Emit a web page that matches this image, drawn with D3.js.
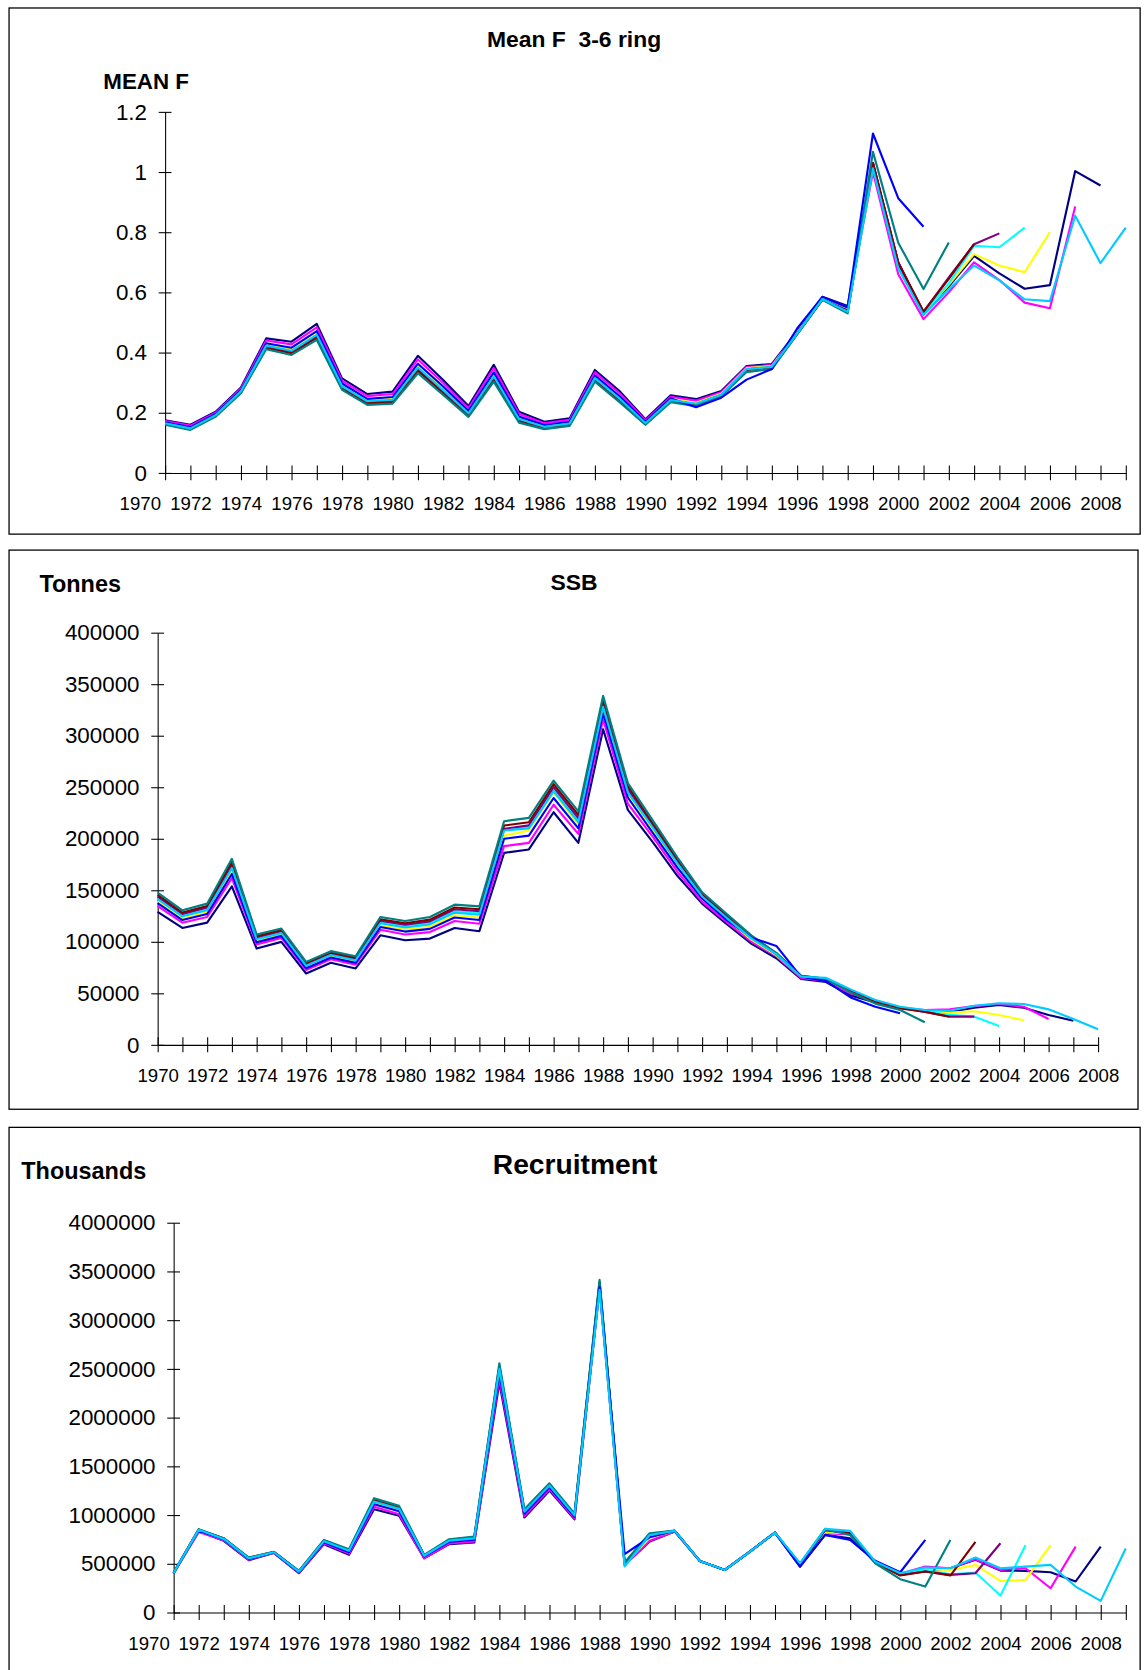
<!DOCTYPE html>
<html><head><meta charset="utf-8">
<script src="https://cdn.jsdelivr.net/npm/d3@7"></script>
<style>
html,body{margin:0;padding:0;background:#fff;}
svg{display:block;}
text{font-family:"Liberation Sans", Arial, sans-serif;fill:#000;white-space:pre;}
</style></head><body>
<script>
// Retrospective runs, Excel default line colours (series 1..9)
const seriesColors = ["#000080","#FF00FF","#FFFF00","#00FFFF","#800080","#800000","#008080","#0000FF","#00CCFF"];

// ---------- Mean F 3-6 ring (first year 1971) ----------
const fStartYear = 1971;
const fNavy = [.175,.160,.203,.284,.447,.436,.495,.314,.262,.270, .389,.309,.222,.359,.203,.170,.181,.342,.270,.178, .258,.245,.272,.355,.362,.470,.585,.555,1.03,.70, .53,.62,.721,.663,.612,.624,1.003,.955];
const fMagenta = [.172,.157,.200,.280,.440,.427,.484,.306,.255,.262, .377,.299,.215,.348,.196,.165,.176,.334,.263,.174, .253,.240,.268,.352,.358,.468,.583,.550,1.00,.66, .511,.60,.70,.641,.566,.547,.885];
const fYellow = [.167,.151,.194,.274,.427,.412,.466,.293,.242,.248, .357,.282,.202,.328,.183,.156,.167,.321,.250,.168, .245,.232,.263,.348,.355,.465,.580,.542,1.02,.69, .53,.625,.727,.689,.667,.80];
const fCyan = [.164,.148,.191,.270,.421,.404,.457,.287,.236,.241, .347,.273,.196,.319,.177,.152,.163,.314,.243,.165, .241,.229,.260,.345,.352,.463,.578,.540,1.02,.69, .53,.63,.755,.75,.815];
const fPurple = [.163,.147,.191,.269,.419,.402,.454,.284,.234,.239, .344,.270,.194,.315,.175,.151,.162,.312,.241,.164, .240,.228,.259,.344,.351,.462,.577,.540,1.03,.70, .535,.65,.76,.796];
const fMaroon = [.162,.145,.189,.267,.416,.398,.449,.281,.231,.235, .339,.266,.191,.310,.172,.148,.159,.308,.238,.162, .238,.225,.257,.342,.349,.461,.576,.535,1.029,.697, .536,.645,.76];
const fTeal = [.160,.143,.187,.265,.411,.392,.442,.276,.226,.230, .331,.259,.186,.303,.167,.145,.156,.303,.233,.160, .235,.222,.255,.335,.345,.460,.575,.530,1.067,.765, .611,.766];
const fBlue = [.168,.152,.196,.275,.431,.416,.471,.297,.246,.252, .363,.287,.206,.334,.187,.159,.170,.324,.253,.170, .248,.218,.250,.310,.345,.480,.585,.550,1.128,.913, .818];
const fSky = [.165,.148,.192,.271,.423,.406,.459,.288,.238,.243, .350,.275,.198,.321,.179,.153,.164,.315,.245,.166, .242,.230,.260,.345,.352,.463,.578,.535,1.012,.68, .525,.61,.689,.64,.577,.571,.855,.697,.815];
const meanF = [fNavy,fMagenta,fYellow,fCyan,fPurple,fMaroon,fTeal,fBlue,fSky];
const fTickValues = [0,0.2,0.4,0.6,0.8,1,1.2];
const fTickLabels = ["0","0.2","0.4","0.6","0.8","1","1.2"];

// ---------- SSB, tonnes (first year 1970) ----------
const ssbStartYear = 1970;
const ssbNavy = [129000,113400,118600,153700,93400,99900,69200,79600,74100,106300, 101500,103100,113400,110200,186300,189600,225700,196000,306300,228000, 197000,164000,137000,117000,98000,84000,64000,61000,48000,41000, 36000,33000,32000,36000,38600,36000,29000,23400];
const ssbMagenta = [134600,118500,124100,161700,97500,103800,72600,83000,77700,111600, 107100,109400,120200,117500,192800,196000,233000,204700,316000,234000, 202000,168000,139000,119000,100000,86000,65000,62000,50000,42000, 36000,33800,34400,37600,39600,37000,25100];
const ssbYellow = [139200,122800,128700,168400,100900,107000,75400,85800,80600,116000, 111800,114600,125800,123500,203000,208000,245000,213000,324000,242000, 208000,173000,142000,122000,102000,87000,66000,63000,52000,43000, 36500,33000,31200,32600,29000,23800];
const ssbCyan = [142400,125700,131800,173000,103200,109200,77300,87700,82700,119100, 115000,118100,129700,127600,209000,211500,248000,218000,329000,246000, 212000,177000,145000,124000,104000,88000,66000,64000,53000,43000, 36500,33000,29000,27300,18300];
const ssbPurple = [143900,127100,133300,175100,104300,110200,78200,88600,83600,120500, 116500,119800,131500,129600,209600,213000,250000,220000,332000,248000, 213000,178000,146000,125000,104000,88000,66000,64000,52000,43000, 36000,32000,27300,27300];
const ssbMaroon = [145400,128400,134800,177300,105400,111300,79100,89500,84600,121900, 118000,121500,133300,131500,212800,216000,253000,223000,335000,251000, 215000,180000,147000,126000,105000,89000,67000,64000,52000,42000, 35400,32100,27300];
const ssbTeal = [147600,130500,137000,180500,107000,112800,80500,90900,86000,124000, 120200,124000,136000,134400,217000,220200,256300,226600,338600,254000, 218000,182000,148000,127000,106000,89000,67000,64000,51000,40000, 33800,21900];
const ssbBlue = [137400,121100,126900,165800,99500,105700,74300,84700,79500,114300, 109900,112500,123600,121100,200000,203000,239500,210000,322000,240000, 206000,172000,142000,121000,104000,96000,66000,62000,46000,37000, 30600];
const ssbSky = [141300,124700,130700,171400,102400,108400,76700,87100,82000,118000, 113800,116900,128300,126200,208000,210000,246000,216000,328000,245000, 211000,176000,144000,123000,103000,88000,66000,65000,53800,43400, 37000,33800,33000,37900,40300,39600,34400,25100,15100];
const ssb = [ssbNavy,ssbMagenta,ssbYellow,ssbCyan,ssbPurple,ssbMaroon,ssbTeal,ssbBlue,ssbSky];
const ssbTickValues = [0,50000,100000,150000,200000,250000,300000,350000,400000];
const ssbTickLabels = ["0","50000","100000","150000","200000","250000","300000","350000","400000"];

// ---------- Recruitment, thousands (first year 1971) ----------
const recStartYear = 1971;
const recNavy = [400000,835000,735000,537000,610000,403000,701000,592000,1060000,992000, 557000,701000,718000,2360000,975000,1250000,955000,3330000,488000,728000, 830000,529000,437000,625000,820000,471000,796000,760000,525000,386000, 430000,454000,540000,430000,427000,413000,318000,676000];
const recMagenta = [402000,825000,740000,542000,612000,408000,710000,604000,1084000,1009000, 555000,708000,730000,2400000,990000,1265000,967000,3330000,490000,735000, 832000,529000,437000,625000,820000,475000,815000,800000,522000,396000, 471000,454000,547000,437000,454000,249000,676000];
const recYellow = [404000,842000,750000,552000,617000,416000,725000,624000,1122000,1048000, 576000,729000,752000,2468000,1022000,1291000,988000,3350000,495000,770000, 835000,529000,437000,625000,820000,480000,825000,810000,522000,395000, 444000,437000,488000,324000,334000,690000];
const recCyan = [406000,848000,756000,557000,619000,420000,733000,634000,1141000,1065000, 582000,738000,763000,2500000,1036000,1304000,998000,3370000,500000,800000, 837000,529000,437000,625000,820000,485000,840000,815000,520000,395000, 437000,393000,410000,174000,690000];
const recPurple = [407000,850000,758000,558000,620000,422000,735000,637000,1148000,1072000, 584000,741000,766000,2510000,1041000,1308000,1002000,3380000,503000,800000, 837000,529000,437000,625000,820000,490000,845000,815000,515000,385000, 420000,386000,403000,711000];
const recMaroon = [408000,852000,760000,561000,621000,424000,739000,642000,1155000,1077000, 587000,745000,772000,2530000,1049000,1315000,1007000,3390000,508000,805000, 838000,529000,437000,625000,820000,495000,850000,810000,512000,379000, 420000,379000,724000];
const recTeal = [410000,855000,763000,564000,622000,427000,745000,650000,1173000,1094000, 592000,752000,780000,2557000,1060000,1325000,1015000,3413000,513000,813000, 840000,529000,437000,625000,820000,500000,858000,796000,505000,342000, 266000,745000];
const recBlue = [403000,840000,748000,549000,615000,414000,721000,618000,1110000,1038000, 573000,724000,746000,2450000,1013000,1284000,982000,3340000,600000,772000, 837000,529000,437000,625000,820000,471000,796000,745000,530000,413000, 745000];
const recSky = [405000,848000,755000,556000,618000,420000,732000,633000,1139000,1063000, 582000,737000,761000,2498000,1035000,1302000,997000,3310000,472000,795000, 837000,529000,437000,625000,820000,506000,858000,837000,522000,403000, 461000,454000,564000,454000,471000,488000,266000,119000,656000];
const recruitment = [recNavy,recMagenta,recYellow,recCyan,recPurple,recMaroon,recTeal,recBlue,recSky];
const recTickValues = [0,500000,1000000,1500000,2000000,2500000,3000000,3500000,4000000];
const recTickLabels = ["0","500000","1000000","1500000","2000000","2500000","3000000","3500000","4000000"];

// x-axis labels (every second year)
const xTickLabels = ["1970","1972","1974","1976","1978","1980","1982","1984","1986","1988","1990","1992","1994","1996","1998","2000","2002","2004","2006","2008"];

// ---------- drawing ----------
const W = 1076, H = 1568;
const svg = d3.select("body").append("svg")
  .attr("width", 1146).attr("height", 1670)
  .attr("viewBox", `0 0 ${W} ${H}`);

const panels = [
  {box:[8,7,1070,501], title:"Mean F  3-6 ring", tX:539, tY:44, tSize:21.5, unit:"MEAN F", uX:97, uY:84, uSize:21,
   xDom:[1971,2009], xRange:[155,1057], yDom:[0,1.2], yRange:[444,105],
   yVals:fTickValues, yLabs:fTickLabels, data:meanF, start:fStartYear},
  {box:[8,516,1068,1041], title:"SSB", tX:539, tY:554, tSize:21.5, unit:"Tonnes", uX:37, uY:556, uSize:22,
   xDom:[1970,2008], xRange:[148,1031], yDom:[0,400000], yRange:[981,594],
   yVals:ssbTickValues, yLabs:ssbTickLabels, data:ssb, start:ssbStartYear},
  {box:[8,1058,1070,1580], title:"Recruitment", tX:540, tY:1102, tSize:26.5, unit:"Thousands", uX:20, uY:1107, uSize:22,
   xDom:[1971,2009], xRange:[163,1057], yDom:[0,4000000], yRange:[1514,1148],
   yVals:recTickValues, yLabs:recTickLabels, data:recruitment, start:recStartYear}
];

panels.forEach(p => {
  const g = svg.append("g");
  g.append("rect").attr("x", p.box[0]+0.5).attr("y", p.box[1]+0.5)
    .attr("width", p.box[2]-p.box[0]).attr("height", p.box[3]-p.box[1])
    .attr("fill","#fff").attr("stroke","#000").attr("stroke-width",1.2);

  g.append("text").attr("x", p.tX).attr("y", p.tY).attr("text-anchor","middle")
    .attr("font-weight","bold").attr("font-size", p.tSize).text(p.title);
  g.append("text").attr("x", p.uX).attr("y", p.uY)
    .attr("font-weight","bold").attr("font-size", p.uSize).text(p.unit);

  const x = d3.scaleLinear().domain(p.xDom).range(p.xRange);
  const y = d3.scaleLinear().domain(p.yDom).range(p.yRange);

  // y axis
  const ya = g.append("g").attr("transform", `translate(${p.xRange[0]},0)`)
    .call(d3.axisLeft(y).tickValues(p.yVals).tickFormat((d,i)=>p.yLabs[i]).tickSize(6).tickSizeOuter(0).tickPadding(11));
  ya.selectAll(".tick line").attr("x1",-6).attr("x2",6).attr("stroke","#000");
  ya.select(".domain").attr("stroke","#000");
  ya.selectAll("text").attr("font-size",21).attr("font-family",'"Liberation Sans", Arial, sans-serif').attr("fill","#000");

  // x axis: tick marks every year inside the domain
  const years = d3.range(p.xDom[0], p.xDom[1]+1);
  const xa = g.append("g").attr("transform", `translate(0,${p.yRange[0]})`)
    .call(d3.axisBottom(x).tickValues(years).tickFormat("").tickSize(7).tickSizeOuter(0));
  xa.selectAll(".tick line").attr("y1",-7).attr("y2",7).attr("stroke","#000");
  xa.select(".domain").attr("stroke","#000");

  // x labels every second year
  const xl = g.append("g").attr("transform", `translate(0,${p.yRange[0]})`)
    .call(d3.axisBottom(x).tickValues(xTickLabels.map(Number)).tickFormat((d,i)=>xTickLabels[i]).tickSize(0));
  xl.select(".domain").remove();
  xl.selectAll("text").attr("y",35).attr("dy",null).attr("font-size",17.5)
    .attr("font-family",'"Liberation Sans", Arial, sans-serif').attr("fill","#000");

  const line = d3.line().x(d=>x(d[0])).y(d=>y(d[1]));
  p.data.forEach((arr, si) => {
    const pts = arr.map((v,i)=>[p.start+i, v]);
    g.append("path").attr("d", line(pts)).attr("fill","none")
      .attr("stroke", seriesColors[si]).attr("stroke-width", 2)
      .attr("stroke-linejoin","round");
  });
});
</script>
</body></html>
